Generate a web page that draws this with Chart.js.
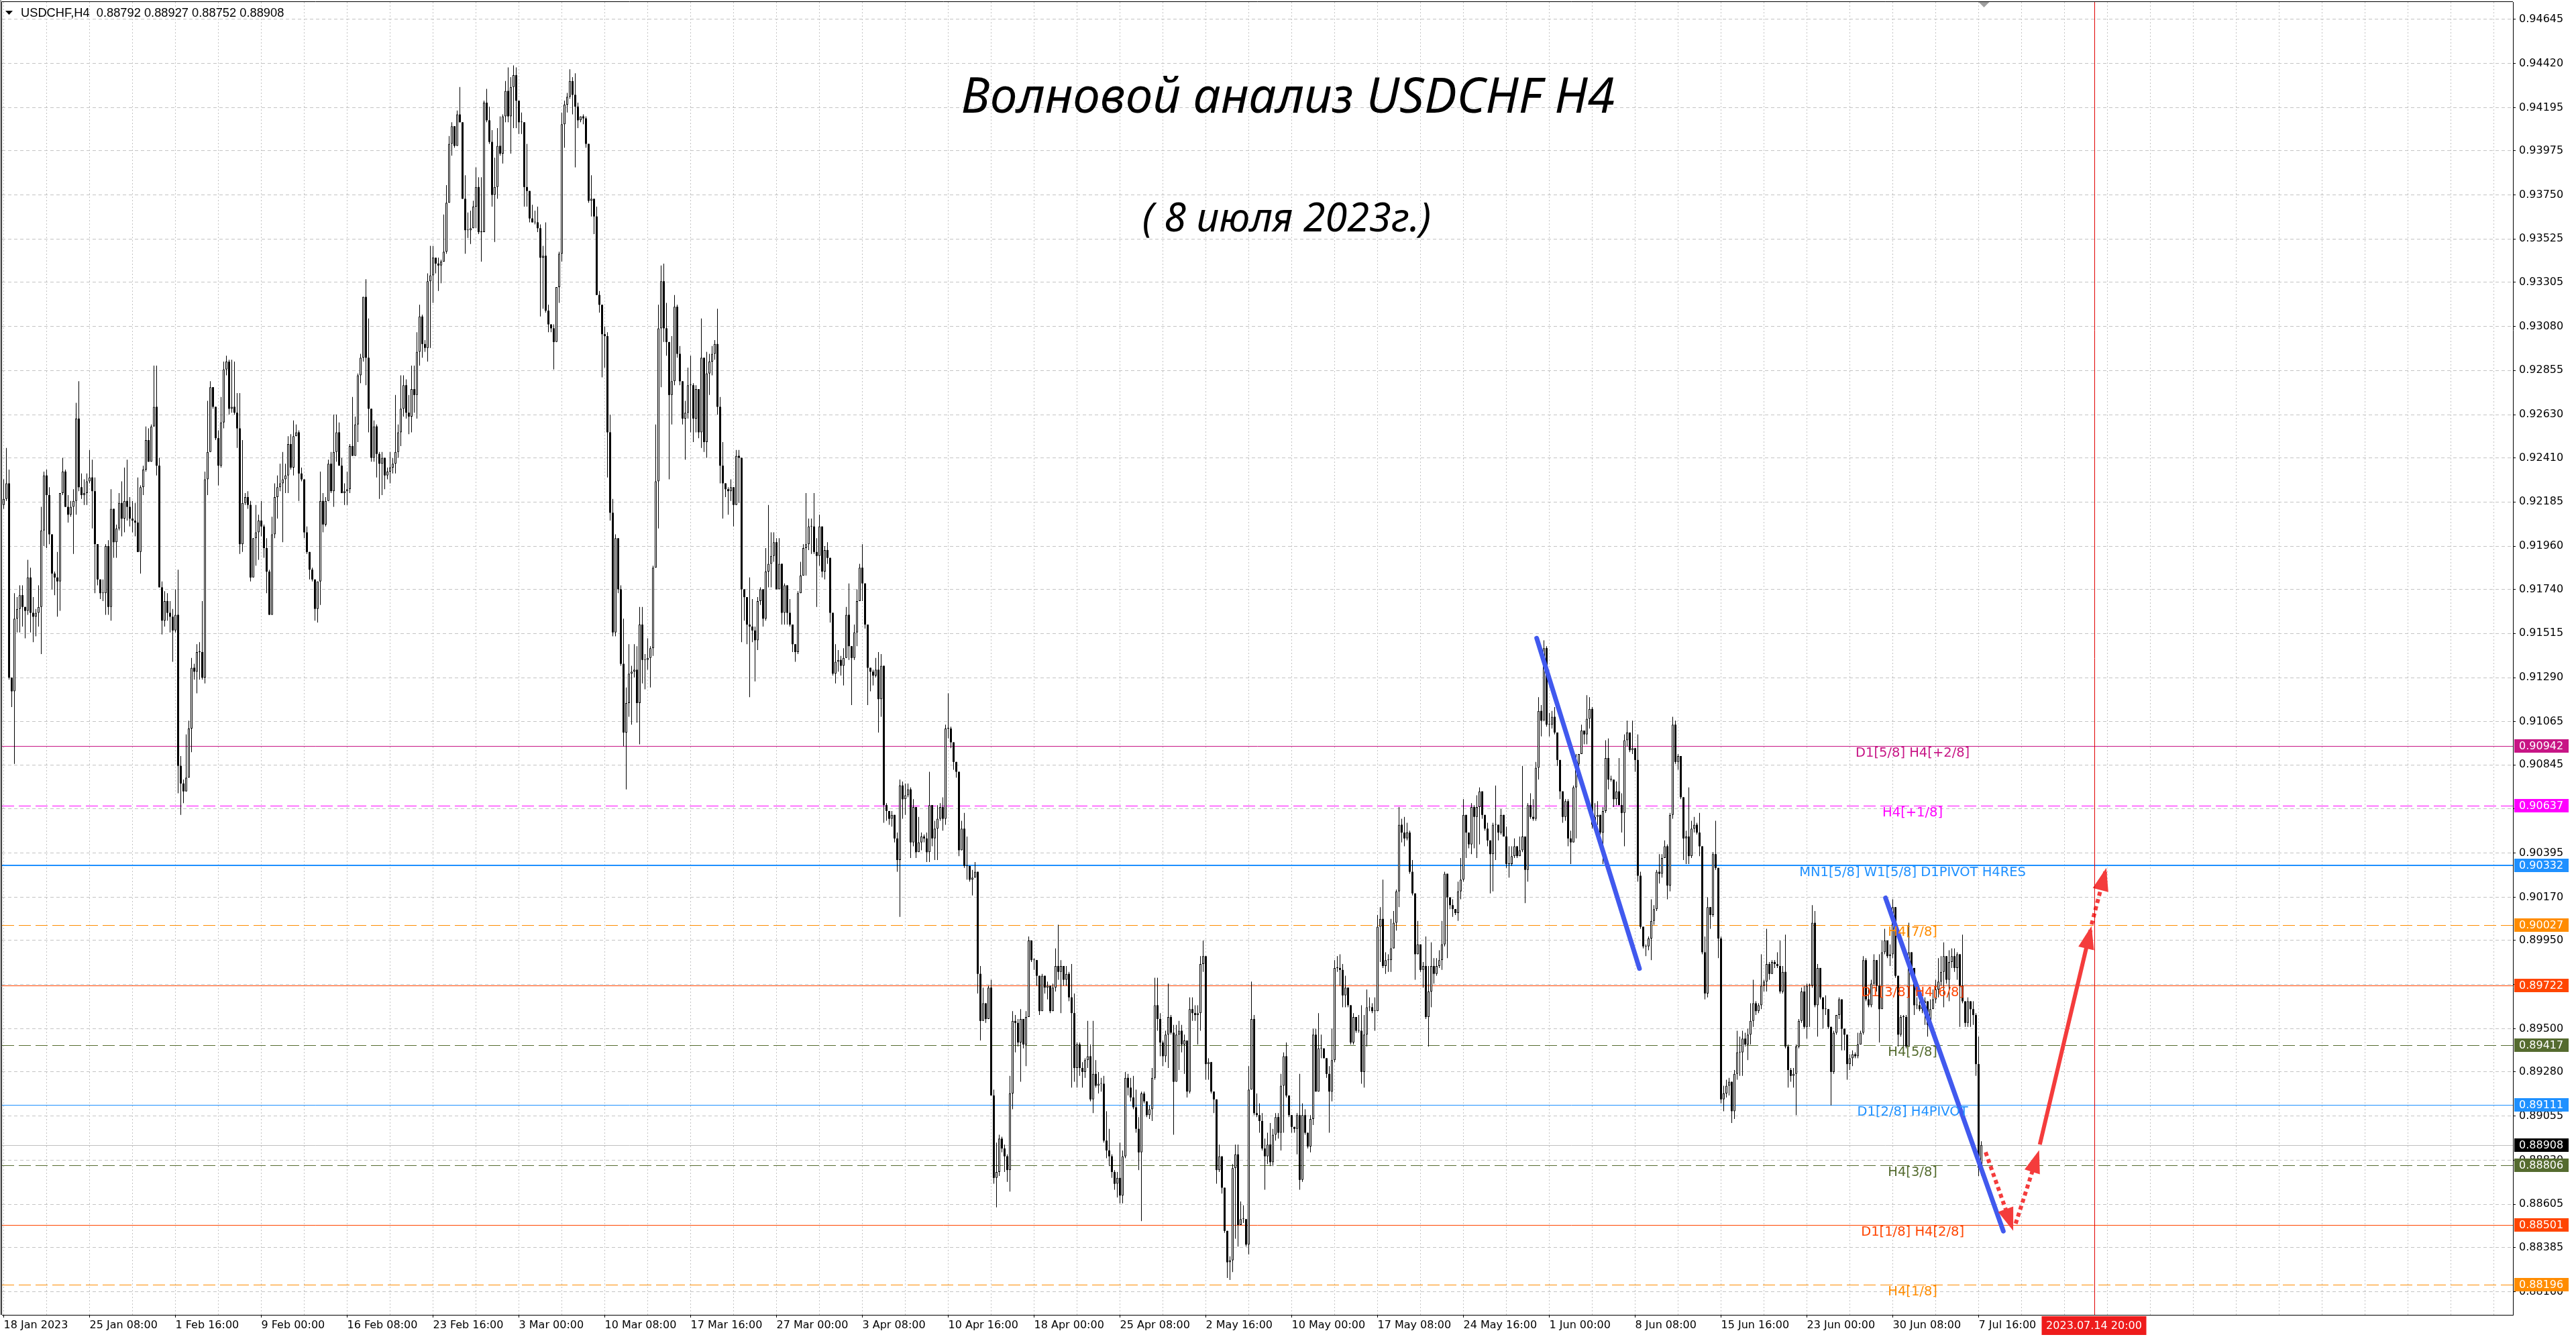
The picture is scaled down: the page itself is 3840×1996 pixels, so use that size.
<!DOCTYPE html>
<html>
<head>
<meta charset="utf-8">
<title>USDCHF H4</title>
<script src="https://cdn.jsdelivr.net/npm/chart.js@4.4.1/dist/chart.umd.min.js"></script>
<style>
  html, body { margin: 0; padding: 0; background: #fff; overflow: hidden; }
  #wrap { width: 3840px; height: 1996px; }
</style>
</head>
<body>
<div id="wrap"><canvas id="chart" width="3840" height="1996"></canvas></div>
<script>
// USDCHF H4, 18 Jan 2023 00:00 .. 7 Jul 2023 20:00, prices in pips (x 0.0001)
// open of each bar = close of the previous bar
const firstOpen = 9217;

const closes = [
  9220,9228,9129,9122,9159,9164,9171,9165,9163,9180, 9162,9160,9162,9165,9204,9232,9222,9202,9182,9180,
  9178,9223,9234,9216,9212,9216,9219,9261,9226,9222, 9223,9229,9231,9224,9197,9179,9172,9172,9196,9165,
  9215,9198,9205,9218,9210,9219,9216,9210,9209,9208, 9193,9226,9235,9250,9239,9257,9267,9237,9175,9158,
  9168,9162,9160,9153,9161,9084,9075,9071,9078,9103, 9134,9132,9142,9142,9129,9230,9244,9277,9267,9251,
  9237,9259,9286,9290,9266,9267,9264,9256,9197,9218, 9221,9217,9180,9200,9203,9209,9206,9195,9183,9161,
  9202,9221,9226,9228,9230,9232,9248,9236,9252,9254, 9233,9230,9203,9193,9184,9179,9164,9178,9219,9207,
  9219,9238,9224,9244,9254,9237,9223,9224,9225,9247, 9242,9258,9283,9292,9323,9292,9266,9241,9257,9243,
  9238,9241,9232,9234,9236,9238,9244,9254,9266,9278, 9264,9262,9276,9273,9295,9313,9299,9297,9331,9334,
  9343,9340,9339,9341,9346,9371,9401,9410,9400,9416, 9412,9373,9357,9357,9358,9369,9379,9356,9356,9422,
  9413,9402,9375,9379,9400,9396,9415,9428,9415,9430, 9436,9423,9412,9412,9379,9377,9363,9361,9361,9358,
  9343,9344,9316,9309,9307,9300,9328,9345,9411,9421, 9425,9433,9426,9420,9413,9415,9414,9401,9372,9373,
  9364,9324,9319,9304,9303,9254,9213,9152,9200,9174, 9136,9101,9116,9131,9132,9133,9116,9156,9138,9138,
  9139,9144,9185,9229,9307,9331,9307,9300,9273,9280, 9318,9294,9280,9261,9264,9278,9278,9261,9276,9254,
  9292,9249,9284,9290,9294,9299,9267,9237,9228,9225, 9224,9226,9217,9242,9241,9174,9170,9156,9155,9153,
  9148,9168,9174,9159,9183,9187,9191,9198,9174,9187, 9162,9176,9162,9156,9146,9142,9172,9181,9195,9197,
  9206,9206,9193,9191,9206,9183,9194,9190,9162,9131, 9137,9138,9135,9139,9161,9145,9139,9152,9168,9185,
  9177,9156,9134,9132,9130,9133,9118,9135,9064,9061, 9057,9059,9047,9036,9074,9067,9069,9072,9045,9063,
  9040,9045,9048,9047,9040,9064,9047,9052,9057,9063, 9057,9103,9103,9096,9086,9081,9041,9052,9033,9033,
  9026,9027,9030,8978,8954,8963,8955,8971,8916,8874, 8877,8894,8889,8885,8878,8917,8954,8953,8943,8955,
  8942,8956,8995,8985,8985,8977,8959,8977,8971,8972, 8959,8971,8982,8979,8982,8975,8978,8966,8958,8930,
  8942,8930,8928,8934,8936,8914,8927,8921,8922,8922, 8893,8888,8885,8877,8871,8874,8865,8885,8925,8920,
  8915,8910,8899,8887,8917,8913,8906,8909,8925,8962, 8955,8943,8936,8947,8956,8948,8923,8947,8949,8942,
  8944,8918,8960,8958,8957,8958,8983,8987,8932,8933, 8918,8914,8878,8885,8869,8847,8831,8832,8879,8886,
  8850,8853,8853,8840,8919,8955,8907,8906,8903,8889, 8885,8891,8882,8896,8905,8897,8921,8936,8916,8906,
  8900,8899,8906,8873,8906,8897,8890,8904,8947,8918, 8940,8940,8935,8927,8918,8934,8981,8981,8980,8967,
  8971,8962,8943,8956,8949,8949,8928,8947,8961,8961, 8959,8959,9002,9006,8982,8985,8985,8991,9004,9020,
  9054,9050,9047,9050,9030,9019,8988,8993,8980,8982, 8956,8969,8982,8978,8982,8985,8993,9029,9017,9013,
  9011,9009,9020,9026,9059,9050,9044,9063,9058,9063, 9071,9059,9052,9046,9039,9054,9054,9050,9059,9048,
  9034,9034,9038,9043,9038,9041,9048,9031,9064,9058, 9057,9083,9112,9107,9144,9105,9105,9109,9101,9087,
  9071,9058,9066,9047,9045,9073,9085,9090,9102,9100, 9108,9113,9054,9058,9059,9050,9061,9088,9077,9077,
  9067,9071,9064,9060,9097,9101,9092,9093,9087,9028, 9002,8992,8992,8996,9005,9011,9030,9029,9037,9043,
  9023,9059,9105,9086,9089,9068,9047,9048,9038,9052, 9054,9050,9043,8989,8968,9012,9008,9039,9032,8996,
  8914,8917,8921,8923,8908,8927,8938,8938,8945,8942, 8947,8954,8963,8959,8962,8972,8974,8983,8978,8984,
  8983,8982,8969,8979,8941,8929,8926,8927,8941,8954, 8969,8951,8972,8972,9004,8962,8981,8966,8960,8960,
  8951,8928,8948,8957,8965,8950,8947,8932,8935,8937, 8936,8942,8948,8985,8965,8962,8973,8985,8972,8960,
  8989,8995,8987,8988,9012,8977,8947,8956,8956,8941, 8989,8981,8962,8962,8960,8963,8964,8952,8960,8965,
  8970,8974,8979,8987,8975,8984,8987,8981,8988,8972, 8964,8953,8964,8960,8957,8932,8879.2,8890.8
];

const highs = [
  9230,9246,9235,9129,9172,9170,9176,9176,9165,9189, 9185,9170,9164,9176,9216,9234,9235,9226,9200,9183,
  9193,9223,9241,9235,9222,9219,9225,9269,9280,9233, 9230,9233,9245,9240,9231,9197,9179,9179,9197,9199,
  9225,9215,9207,9223,9229,9236,9240,9221,9219,9218, 9231,9227,9237,9257,9256,9258,9288,9288,9241,9178,
  9173,9172,9168,9164,9174,9184,9089,9077,9100,9107, 9139,9136,9146,9147,9168,9234,9270,9280,9277,9267,
  9255,9272,9290,9293,9291,9291,9290,9274,9274,9250, 9223,9224,9219,9200,9217,9212,9219,9207,9200,9184,
  9211,9228,9232,9238,9244,9238,9252,9253,9260,9258, 9255,9236,9230,9206,9193,9185,9179,9178,9234,9223,
  9221,9240,9244,9263,9263,9259,9241,9228,9234,9248, 9272,9262,9284,9294,9323,9332,9312,9266,9260,9258,
  9244,9244,9241,9236,9244,9241,9273,9258,9283,9283, 9281,9273,9288,9288,9305,9319,9314,9301,9335,9349,
  9349,9343,9343,9342,9365,9380,9405,9412,9410,9418, 9430,9412,9385,9366,9367,9372,9389,9384,9384,9423,
  9429,9420,9408,9394,9409,9415,9416,9433,9440,9435, 9441,9440,9421,9417,9409,9401,9377,9370,9367,9369,
  9360,9349,9361,9319,9309,9309,9328,9346,9417,9423, 9427,9439,9435,9437,9422,9415,9416,9415,9401,9385,
  9373,9369,9326,9319,9308,9305,9263,9220,9202,9199, 9176,9159,9124,9146,9135,9146,9145,9165,9165,9141,
  9149,9145,9186,9258,9319,9339,9340,9320,9300,9303, 9324,9319,9298,9278,9270,9287,9293,9279,9278,9276,
  9312,9292,9295,9294,9298,9301,9317,9272,9249,9228, 9226,9230,9226,9245,9245,9213,9174,9170,9180,9169,
  9155,9170,9175,9174,9195,9217,9203,9203,9200,9200, 9187,9177,9176,9169,9156,9146,9173,9188,9197,9223,
  9210,9210,9223,9200,9212,9206,9196,9198,9190,9162, 9146,9143,9140,9144,9165,9177,9145,9156,9174,9187,
  9197,9177,9156,9134,9133,9139,9142,9141,9135,9065, 9060,9061,9059,9050,9077,9076,9075,9075,9073,9067,
  9063,9058,9050,9049,9050,9081,9064,9056,9064,9065, 9068,9105,9121,9104,9096,9086,9081,9056,9060,9048,
  9033,9031,9035,9030,8982,8971,8963,8972,8975,8919, 8892,8896,8895,8891,8886,8926,8959,8957,8955,8960,
  8955,8959,8997,8995,8986,8985,8977,8978,8977,8974, 8972,8973,8991,9003,8985,8982,8982,8979,8983,8968,
  8943,8943,8933,8935,8954,8942,8954,8934,8928,8925, 8926,8908,8899,8886,8878,8877,8892,8888,8928,8927,
  8925,8926,8919,8905,8918,8918,8908,8911,8930,8976, 8976,8958,8944,8949,8973,8957,8952,8952,8954,8952,
  8947,8944,8966,8966,8962,8962,8987,8995,8987,8935, 8932,8918,8914,8891,8885,8869,8847,8834,8881,8891,
  8891,8862,8860,8853,8931,8974,8957,8917,8912,8907, 8894,8897,8902,8899,8907,8907,8927,8938,8943,8916,
  8902,8900,8907,8927,8912,8909,8897,8906,8950,8950, 8958,8947,8938,8935,8931,8950,8985,8987,8988,8983,
  8977,8971,8962,8958,8952,8957,8962,8957,8970,8966, 8963,8966,9008,9012,9026,8989,8988,9006,9010,9021,
  9063,9057,9058,9055,9051,9036,9019,9005,8993,8984, 8997,8982,8994,8986,8986,8990,9005,9030,9029,9017,
  9016,9011,9025,9037,9067,9059,9050,9065,9064,9069, 9073,9071,9059,9055,9046,9055,9074,9054,9062,9059,
  9053,9043,9043,9047,9040,9048,9084,9048,9065,9070, 9067,9086,9119,9115,9148,9145,9111,9112,9114,9101,
  9087,9071,9067,9067,9051,9074,9090,9090,9105,9102, 9120,9119,9114,9065,9066,9059,9063,9097,9098,9079,
  9077,9076,9088,9070,9100,9107,9094,9107,9093,9100, 9030,9002,8993,8997,9016,9013,9031,9039,9039,9046,
  9044,9060,9109,9107,9090,9089,9068,9051,9073,9056, 9058,9055,9060,9043,8997,9017,9012,9040,9056,9032,
  8997,8921,8924,8925,8923,8929,8949,8946,8949,8948, 8950,8963,8975,8964,8963,8988,8975,9001,8984,8985,
  8985,8989,8995,8982,8998,8942,8930,8930,8942,8955, 8971,8972,8973,8973,9013,9010,8983,8981,8966,8967,
  8959,8951,8949,8957,8966,8965,8950,8947,8937,8939, 8938,8948,8949,8987,8986,8971,8975,8988,8985,8988,
  8995,9001,8993,8993,9016,9012,8977,8957,8957,8957, 9004,8989,8981,8966,8964,8964,8966,8964,8965,8970,
  8975,8986,8987,8994,8987,8990,8991,8991,8989,8985, 8998,8964,8966,8964,8964,8958,8946,8892.7
];

const lows = [
  9215,9219,9128,9114,9085,9152,9152,9155,9149,9161, 9152,9147,9150,9155,9141,9196,9195,9197,9174,9171,
  9160,9163,9222,9216,9208,9211,9192,9212,9224,9220, 9217,9217,9228,9205,9172,9176,9169,9168,9161,9161,
  9158,9190,9190,9204,9201,9203,9209,9206,9203,9201, 9193,9182,9222,9234,9239,9239,9257,9232,9175,9151,
  9155,9158,9152,9137,9152,9070,9059,9065,9071,9078, 9091,9128,9121,9128,9128,9126,9222,9244,9266,9250,
  9227,9236,9256,9283,9263,9264,9263,9246,9192,9193, 9217,9215,9178,9180,9186,9189,9201,9190,9172,9161,
  9161,9200,9210,9224,9198,9223,9223,9235,9232,9252, 9219,9229,9200,9192,9179,9178,9158,9157,9166,9203,
  9206,9219,9223,9216,9239,9237,9223,9217,9217,9223, 9242,9242,9249,9279,9290,9278,9254,9239,9239,9231,
  9220,9222,9225,9230,9228,9233,9233,9241,9247,9262, 9261,9253,9254,9264,9261,9288,9292,9295,9290,9297,
  9320,9335,9326,9330,9341,9345,9371,9395,9399,9400, 9412,9373,9345,9353,9350,9359,9358,9355,9341,9372,
  9412,9401,9369,9351,9373,9395,9391,9412,9412,9396, 9409,9409,9406,9406,9369,9369,9361,9361,9360,9356,
  9313,9317,9315,9305,9305,9286,9300,9320,9341,9399, 9417,9424,9416,9389,9409,9412,9411,9399,9371,9364,
  9355,9324,9315,9282,9287,9231,9209,9150,9150,9172, 9135,9094,9072,9109,9105,9129,9106,9095,9126,9123,
  9133,9124,9140,9185,9205,9277,9300,9293,9230,9258, 9278,9292,9278,9258,9240,9261,9254,9249,9254,9251,
  9246,9244,9241,9273,9283,9291,9263,9228,9210,9221, 9212,9219,9206,9217,9218,9147,9158,9146,9119,9147,
  9127,9143,9166,9155,9158,9175,9175,9188,9174,9175, 9156,9156,9156,9155,9142,9137,9141,9172,9181,9181,
  9194,9192,9192,9165,9186,9180,9179,9187,9157,9130, 9126,9132,9130,9125,9139,9138,9115,9138,9145,9168,
  9168,9154,9115,9122,9125,9129,9101,9109,9055,9056, 9054,9053,9045,9030,9007,9057,9059,9068,9037,9043,
  9037,9040,9041,9045,9035,9035,9043,9036,9036,9056, 9051,9054,9098,9093,9082,9078,9038,9041,9032,9026,
  9025,9018,9027,8968,8944,8954,8953,8955,8916,8871, 8859,8875,8887,8877,8872,8867,8909,8938,8941,8923,
  8940,8931,8956,8984,8980,8972,8957,8959,8968,8965, 8958,8959,8969,8975,8958,8972,8972,8964,8920,8923,
  8920,8926,8920,8925,8930,8913,8907,8920,8917,8918, 8892,8884,8880,8874,8868,8864,8861,8861,8884,8916,
  8913,8909,8897,8878,8852,8912,8905,8904,8903,8924, 8949,8936,8931,8933,8930,8947,8896,8923,8929,8938,
  8927,8915,8917,8954,8954,8942,8949,8979,8924,8924, 8917,8907,8871,8877,8866,8846,8823,8822,8826,8843,
  8839,8850,8851,8839,8835,8919,8906,8905,8897,8888, 8868,8881,8880,8880,8893,8894,8888,8897,8915,8905,
  8897,8897,8886,8868,8872,8896,8889,8887,8901,8918, 8918,8935,8935,8925,8897,8913,8933,8979,8972,8961,
  8961,8961,8942,8942,8948,8948,8922,8920,8941,8959, 8958,8949,8959,8984,8981,8978,8979,8979,8991,9000,
  9012,9045,9043,9046,9029,9018,8975,8988,8979,8971, 8955,8941,8961,8973,8977,8981,8980,8992,8986,9011,
  9007,9008,9005,9016,9025,9037,9042,9039,9042,9037, 9044,9057,9051,9043,9019,9020,9036,9046,9049,9048,
  9032,9027,9033,9037,9037,9038,9040,9014,9025,9057, 9056,9056,9077,9099,9107,9104,9099,9103,9100,9084,
  9067,9055,9056,9043,9034,9045,9047,9082,9095,9095, 9095,9103,9052,9053,9054,9049,9034,9060,9072,9076,
  9063,9064,9064,9050,9043,9094,9091,9090,9081,9025, 9001,8991,8987,8990,8985,9003,9010,9024,9027,9037,
  9016,9020,9057,9085,9082,9067,9036,9034,9034,9037, 9050,9049,9038,8988,8965,8966,9001,9007,9031,8986,
  8912,8908,8915,8916,8902,8904,8924,8926,8926,8941, 8934,8942,8951,8957,8958,8960,8969,8969,8975,8978,
  8981,8981,8968,8968,8940,8920,8923,8920,8906,8940, 8953,8950,8945,8951,8971,8961,8946,8965,8950,8957,
  8950,8911,8927,8947,8955,8939,8939,8924,8929,8931, 8935,8935,8942,8947,8964,8961,8961,8972,8969,8943,
  8964,8988,8986,8982,8986,8976,8941,8946,8941,8940, 8941,8980,8957,8960,8959,8958,8952,8946,8952,8960,
  8963,8966,8972,8961,8973,8964,8981,8979,8975,8951, 8963,8951,8951,8951,8952,8926,8875,8875.2
];

// time axis: one label every 32 bars, grid every 16 bars
const xLabels = [
  "18 Jan 2023", "25 Jan 08:00", "1 Feb 16:00", "9 Feb 00:00", "16 Feb 08:00", "23 Feb 16:00",
  "3 Mar 00:00", "10 Mar 08:00", "17 Mar 16:00", "27 Mar 00:00", "3 Apr 08:00", "10 Apr 16:00",
  "18 Apr 00:00", "25 Apr 08:00", "2 May 16:00", "10 May 00:00", "17 May 08:00", "24 May 16:00",
  "1 Jun 00:00", "8 Jun 08:00", "15 Jun 16:00", "23 Jun 00:00", "30 Jun 08:00", "7 Jul 16:00"
];
const yTicks = [
  0.94645, 0.94420, 0.94195, 0.93975, 0.93750, 0.93525, 0.93305, 0.93080, 0.92855, 0.92630,
  0.92410, 0.92185, 0.91960, 0.91740, 0.91515, 0.91290, 0.91065, 0.90845, 0.90620, 0.90395,
  0.90170, 0.89950, 0.89725, 0.89500, 0.89280, 0.89055, 0.88830, 0.88605, 0.88385, 0.88160
];

// Murrey / pivot levels
const levelPrices = [0.90942, 0.90637, 0.90332, 0.90027, 0.89722, 0.89417, 0.89111, 0.88806, 0.88501, 0.88196];
const levelNames = [
  "D1[5/8] H4[+2/8]", "H4[+1/8]", "MN1[5/8] W1[5/8] D1PIVOT H4RES", "H4[7/8]", "D1[3/8] H4[6/8]",
  "H4[5/8]", "D1[2/8] H4PIVOT", "H4[3/8]", "D1[1/8] H4[2/8]", "H4[1/8]"
];

// drawn objects: [bar index, price]
const blueLine1 = [[571.3, 0.91491], [609.6, 0.89807]];
const blueLine2 = [[701.3, 0.90167], [745.2, 0.88469]];
const arrowDown = [[738.6, 0.88871], [748.4, 0.88490]];
const arrowUp1 = [[749.8, 0.88507], [758.1, 0.88862]];
const arrowUp2 = [[758.8, 0.88910], [777.7, 0.90003]];
const arrowUp3 = [[778.1, 0.90032], [783.2, 0.90300]];
const futureBar = 779;
const futureLabel = "2023.07.14 20:00";
const titleText = "Волновой анализ USDCHF H4";
const dateText = "( 8 июля 2023г.)";

// styles
const levelStyles = [
  { color: "#c71585", width: 1, dash: [] },
  { color: "#ff00ff", width: 1, dash: [18, 7] },
  { color: "#1e90ff", width: 2, dash: [] },
  { color: "#ff8c00", width: 1, dash: [18, 7] },
  { color: "#ff4500", width: 1, dash: [] },
  { color: "#556b2f", width: 1, dash: [18, 7] },
  { color: "#1e90ff", width: 1, dash: [] },
  { color: "#556b2f", width: 1, dash: [18, 7] },
  { color: "#ff4500", width: 1, dash: [] },
  { color: "#ff8c00", width: 1, dash: [18, 7] }
];
const BLUE = "#4159ee";
const RED = "#f43c3c";
const FONT = "'DejaVu Sans'";

const PIP = 0.0001;
const opens = closes.map((c, i) => (i === 0 ? firstOpen : closes[i - 1]));
const wicks = [], bulls = [], bears = [];
closes.forEach((c, i) => {
  const o = opens[i];
  const hi = Math.max(highs[i], o, c) * PIP;
  const lo = Math.min(lows[i], o, c) * PIP;
  wicks.push({ x: i, y: [lo, hi] });
  const body = { x: i, y: [Math.min(o, c) * PIP, Math.max(o, c) * PIP] };
  if (c >= o) bulls.push(body); else bears.push(body);
});
const pts = arr => arr.map(p => ({ x: p[0], y: p[1] }));

function arrowHead(ctx, x1, y1, x2, y2, len, half) {
  const a = Math.atan2(y2 - y1, x2 - x1);
  const bx = x2 - len * Math.cos(a), by = y2 - len * Math.sin(a);
  ctx.beginPath();
  ctx.moveTo(x2 + 6 * Math.cos(a), y2 + 6 * Math.sin(a));
  ctx.lineTo(bx + half * Math.sin(a), by - half * Math.cos(a));
  ctx.lineTo(bx - half * Math.sin(a), by + half * Math.cos(a));
  ctx.closePath();
  ctx.fill();
}

function fitText(ctx, text, style, family, target) {
  ctx.font = style + " 100px " + family;
  const w = ctx.measureText(text).width;
  return style + " " + (100 * target / w).toFixed(1) + "px " + family;
}

const overlay = {
  id: "overlay",
  beforeDatasetsDraw(chart) {
    const { ctx, chartArea: a, scales: { y } } = chart;
    ctx.save();
    // bid line
    const yb = Math.round(y.getPixelForValue(closes[closes.length - 1] * PIP)) + 0.5;
    ctx.strokeStyle = "#c0c0c0";
    ctx.lineWidth = 1;
    ctx.beginPath(); ctx.moveTo(a.left, yb); ctx.lineTo(a.right, yb); ctx.stroke();
    levelPrices.forEach((p, k) => {
      const st = levelStyles[k];
      const yy = Math.round(y.getPixelForValue(p)) + (st.width % 2 ? 0.5 : 0);
      ctx.strokeStyle = st.color;
      ctx.lineWidth = st.width;
      ctx.setLineDash(st.dash);
      ctx.beginPath(); ctx.moveTo(a.left, yy); ctx.lineTo(a.right, yy); ctx.stroke();
    });
    ctx.restore();
  },
  afterDatasetsDraw(chart) {
    const { ctx, chartArea: a, scales: { x, y } } = chart;
    ctx.save();
    // level captions
    ctx.font = "19.5px " + FONT;
    ctx.textAlign = "center";
    ctx.textBaseline = "middle";
    const lx = x.getPixelForValue(711.4);
    levelPrices.forEach((p, k) => {
      ctx.fillStyle = levelStyles[k].color;
      ctx.fillText(levelNames[k], lx, y.getPixelForValue(p) + 11);
    });
    // arrow heads at the end of the red segments
    ctx.fillStyle = RED;
    [2, 3, 4, 5].forEach(idx => {
      const d = chart.getDatasetMeta(idx).data;
      const p0 = d[d.length - 2], p1 = d[d.length - 1];
      arrowHead(ctx, p0.x, p0.y, p1.x, p1.y, 28, 12);
    });
    // future time line
    const fx = Math.round(x.getPixelForValue(futureBar)) + 0.5;
    ctx.strokeStyle = "#e00000";
    ctx.lineWidth = 1;
    ctx.beginPath(); ctx.moveTo(fx, a.top); ctx.lineTo(fx, a.bottom); ctx.stroke();
    ctx.restore();
  },
  afterDraw(chart) {
    const { ctx, chartArea: a, scales: { x, y } } = chart;
    ctx.save();
    // window frame
    ctx.fillStyle = "#a0a0a0";
    ctx.fillRect(0, 0, 2, a.bottom);
    ctx.strokeStyle = "#000";
    ctx.lineWidth = 1;
    ctx.beginPath();
    ctx.moveTo(a.left - 0.5, a.bottom); ctx.lineTo(a.left - 0.5, a.top - 0.5); ctx.lineTo(a.right, a.top - 0.5);
    ctx.stroke();
    // chart shift marker
    const sx = x.getPixelForValue(closes.length);
    ctx.fillStyle = "#a0a0a0";
    ctx.beginPath(); ctx.moveTo(sx - 8, a.top); ctx.lineTo(sx + 8, a.top); ctx.lineTo(sx, a.top + 8); ctx.closePath(); ctx.fill();

    // price boxes on the axis
    ctx.font = "16px " + FONT;
    ctx.textAlign = "left";
    ctx.textBaseline = "middle";
    const box = (p, bg) => {
      const yy = Math.round(y.getPixelForValue(p));
      ctx.fillStyle = bg;
      ctx.fillRect(a.right + 2, yy - 10, 81, 20);
      ctx.fillStyle = "#fff";
      ctx.fillText(p.toFixed(5), a.right + 9, yy + 1);
    };
    levelPrices.forEach((p, k) => box(p, levelStyles[k].color));
    box(closes[closes.length - 1] * PIP, "#000");

    // future time label
    const fx = x.getPixelForValue(futureBar);
    ctx.fillStyle = "#ee1c1c";
    ctx.fillRect(fx - 78, a.bottom + 2, 156, 28);
    ctx.fillStyle = "#fff";
    ctx.textAlign = "center";
    ctx.fillText(futureLabel, fx, a.bottom + 17);

    // header
    const n = closes.length - 1;
    const head = "USDCHF,H4  " + [opens[n], Math.max(highs[n], opens[n], closes[n]), Math.min(lows[n], opens[n], closes[n]), closes[n]]
      .map(v => (v * PIP).toFixed(5)).join(" ");
    ctx.fillStyle = "#000";
    ctx.beginPath(); ctx.moveTo(8, 16); ctx.lineTo(19, 16); ctx.lineTo(13.5, 22); ctx.closePath(); ctx.fill();
    ctx.font = fitText(ctx, head, "normal", "'Liberation Sans'", 393);
    ctx.textAlign = "left";
    ctx.fillText(head, 31, 20);

    // title
    ctx.textAlign = "center";
    ctx.font = fitText(ctx, titleText, "italic", "'Noto Sans'", 974);
    ctx.fillText(titleText, 1920, 147);
    ctx.font = fitText(ctx, dateText, "italic", "'Noto Sans'", 431);
    ctx.fillText(dateText, 1918, 328);
    ctx.restore();
  }
};

Chart.defaults.font.family = FONT;
Chart.defaults.color = "#000";

new Chart(document.getElementById("chart"), {
  type: "bar",
  data: {
    datasets: [
      { type: "line", data: pts(blueLine1), borderColor: BLUE, borderWidth: 7, borderCapStyle: "round", pointRadius: 0, order: 0 },
      { type: "line", data: pts(blueLine2), borderColor: BLUE, borderWidth: 7, borderCapStyle: "round", pointRadius: 0, order: 0 },
      { type: "line", data: pts(arrowDown), borderColor: RED, borderWidth: 6, borderDash: [6, 5], pointRadius: 0, order: 0 },
      { type: "line", data: pts(arrowUp1), borderColor: RED, borderWidth: 6, borderDash: [6, 5], pointRadius: 0, order: 0 },
      { type: "line", data: pts(arrowUp2), borderColor: RED, borderWidth: 6, pointRadius: 0, order: 0 },
      { type: "line", data: pts(arrowUp3), borderColor: RED, borderWidth: 6, borderDash: [6, 5], pointRadius: 0, order: 0 },
      { data: bulls, backgroundColor: "#fff", borderColor: "#000", borderWidth: 1, borderSkipped: false,
        barThickness: 3, minBarLength: 1, grouped: false, inflateAmount: 0, order: 1 },
      { data: bears, backgroundColor: "#000", borderWidth: 0,
        barThickness: 3, minBarLength: 1, grouped: false, inflateAmount: 0, order: 1 },
      { data: wicks, backgroundColor: "#000", borderWidth: 0,
        barThickness: 1, grouped: false, inflateAmount: 0, order: 2 }
    ]
  },
  options: {
    responsive: false,
    devicePixelRatio: 1,
    animation: false,
    events: [],
    layout: { padding: { left: 3, top: 3, right: 0, bottom: 0 } },
    plugins: { legend: { display: false }, tooltip: { enabled: false } },
    scales: {
      x: {
        type: "linear",
        min: -0.625,
        max: 935.125,
        offset: false,
        afterFit: s => { s.height = 36; s.paddingLeft = 0; s.paddingRight = 0; },
        afterBuildTicks: s => {
          const t = [];
          for (let v = 0; v <= 928; v += 16) t.push({ value: v });
          s.ticks = t;
        },
        ticks: {
          autoSkip: false, maxRotation: 0, minRotation: 0, align: "start", padding: 2,
          font: { size: 16, family: FONT }, color: "#000",
          callback: v => (v % 32 === 0 && v / 32 < xLabels.length ? xLabels[v / 32] : "")
        },
        grid: {
          offset: false, color: "#c4c4c4", lineWidth: 1, tickLength: 4, tickBorderDash: [],
          tickColor: c => (c.tick && c.tick.value % 32 === 0 && c.tick.value / 32 < xLabels.length ? "#000" : "rgba(0,0,0,0)")
        },
        border: { display: true, color: "#000", width: 1, dash: [2, 3] }
      },
      y: {
        type: "linear",
        position: "right",
        min: 0.88042,
        max: 0.94733,
        beginAtZero: false,
        afterFit: s => { s.width = 94; s.paddingTop = 0; s.paddingBottom = 0; },
        afterBuildTicks: s => { s.ticks = yTicks.map(v => ({ value: v })); },
        ticks: {
          autoSkip: false, padding: 5, crossAlign: "near",
          font: { size: 16, family: FONT }, color: "#000",
          callback: v => v.toFixed(5)
        },
        grid: { color: "#c4c4c4", lineWidth: 1, tickLength: 4, tickColor: "#000", tickBorderDash: [] },
        border: { display: true, color: "#000", width: 1, dash: [5, 4] }
      }
    }
  },
  plugins: [overlay]
});
</script>
</body>
</html>
